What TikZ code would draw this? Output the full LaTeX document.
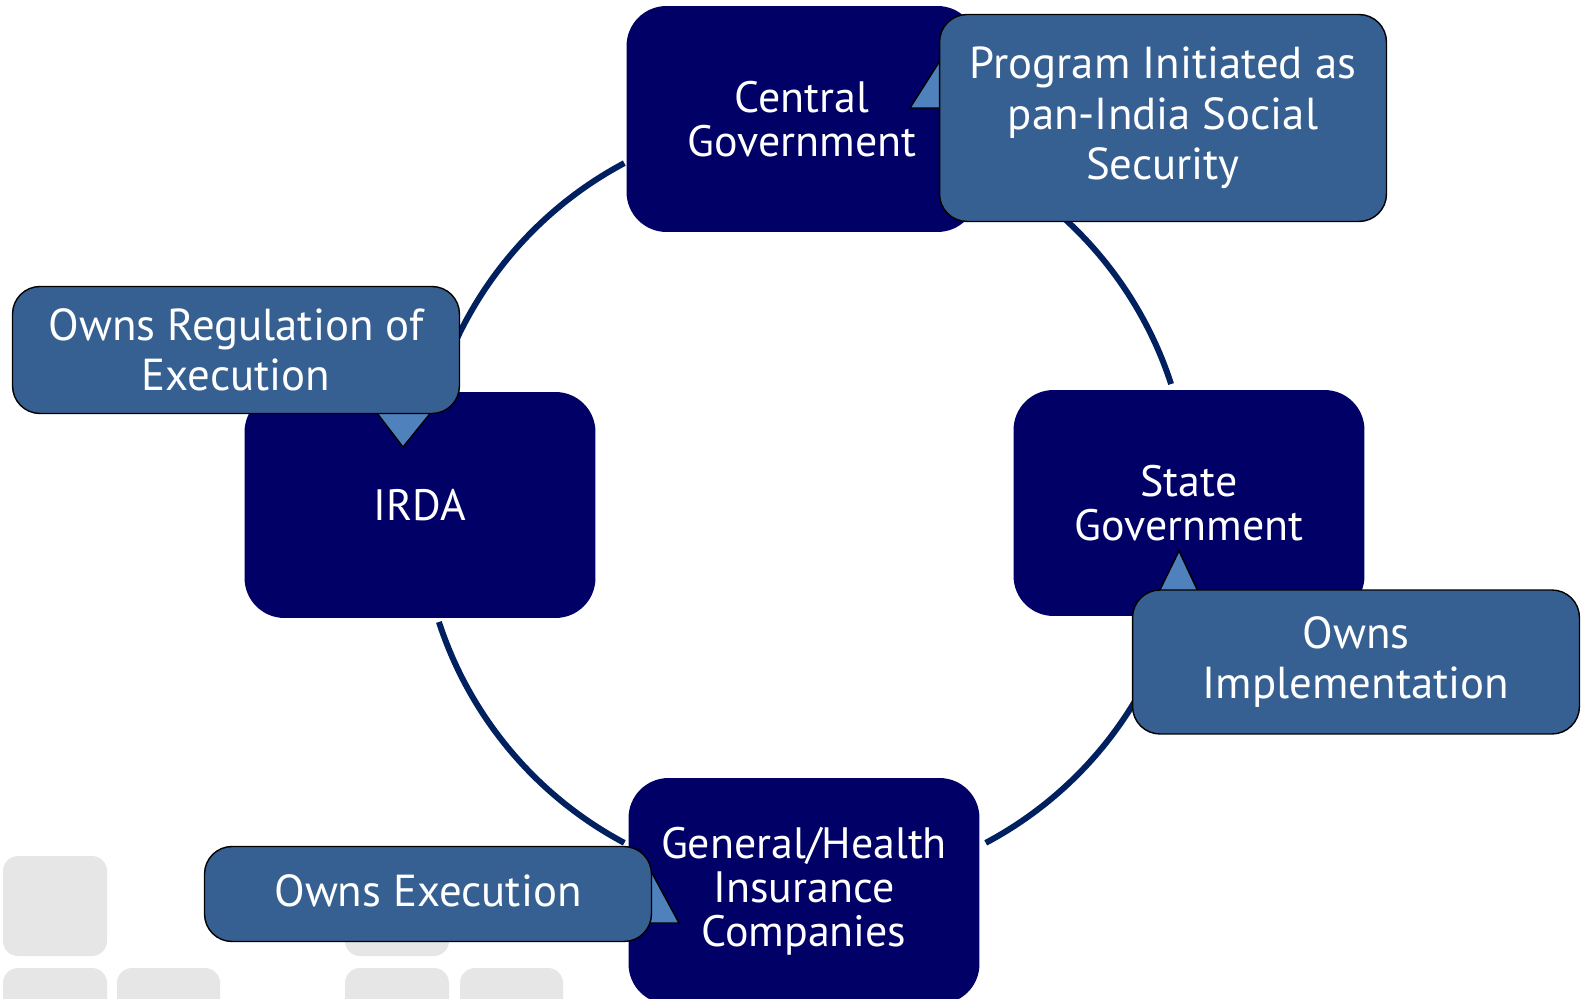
\documentclass[tikz,border=0pt]{standalone}
\usepackage{fontspec}
\setmainfont{PT Sans}
\usetikzlibrary{positioning}
\definecolor{BoxNavy}{HTML}{000066}
\definecolor{NoteBlue}{HTML}{376092}
\definecolor{TipBlue}{HTML}{4F81BD}
\definecolor{RingNavy}{HTML}{002060}
\definecolor{TileGray}{HTML}{E6E6E6}
\tikzset{
  rolebox/.style={rectangle, rounded corners=0.8cm, fill=BoxNavy, text=white, minimum width=7.02cm, minimum height=4.52cm, align=center, font=\fontsize{25}{25}\selectfont, inner sep=0pt},
  notebox/.style={rectangle, rounded corners=0.55cm, draw=black, line width=0.8pt, fill=NoteBlue, text=white, minimum width=8.94cm, align=center, font=\fontsize{25.5}{28.7}\selectfont, inner sep=0pt},
  notetip/.style={draw=black, line width=0.8pt, fill=TipBlue, line join=miter},
  ring/.style={RingNavy, line width=3.4pt},
  tile/.style={fill=TileGray, rounded corners=0.3cm}
}
\begin{document}
\begin{tikzpicture}[x=0.02cm, y=-0.02cm]
  \useasboundingbox (0,0) rectangle (1585,999);

  % Background tiles
  \fill[tile] (3,856) rectangle (107,956);
  \fill[tile] (3,968) rectangle (107,1030);
  \fill[tile] (117,968) rectangle (220,1030);
  \fill[tile] (345,856) rectangle (449,956);
  \fill[tile] (345,968) rectangle (449,1030);
  \fill[tile] (460,968) rectangle (563,1030);

  % Ring
  \coordinate (hub) at (805,503);
  \foreach \a in {18,118,198,298} {
    \draw[ring] (hub) ++(\a:7.7cm) arc[start angle=\a, delta angle=44, radius=7.7cm];
  }

  % Roles
  \node[rolebox] (centre) at (802,119) {Central\\Government};
  \node[rolebox] (irda) at (420,505) {IRDA};
  \node[rolebox] (state) at (1189,503) {State\\Government};
  \node[rolebox] (insurer) at (804,891) {General/Health\\Insurance\\Companies};

  % Callout tails
  \filldraw[notetip] (910,108) -- (950,45) -- (950,108) -- cycle;
  \filldraw[notetip] (367,400) -- (441,400) -- (403,447) -- cycle;
  \filldraw[notetip] (1179,551) -- (1155,600) -- (1202,600) -- cycle;
  \filldraw[notetip] (640,851) -- (679,923) -- (640,923) -- cycle;

  % Callouts
  \node[notebox, minimum height=4.14cm] (initiate) at (1163,118) {\raisebox{0.06cm}{\parbox{8.9cm}{\centering Program Initiated as\\pan-India Social\\Security}}};
  \node[notebox, minimum height=2.54cm] (regulate) at (236,350) {\raisebox{-0.08cm}{\parbox{8.9cm}{\centering Owns Regulation of\\Execution}}};
  \node[notebox, minimum height=2.88cm] (implement) at (1356,662) {Owns\\Implementation};
  \node[notebox, minimum height=1.9cm] (execute) at (428,894) {\raisebox{0.14cm}{Owns Execution}};
\end{tikzpicture}
\end{document}
